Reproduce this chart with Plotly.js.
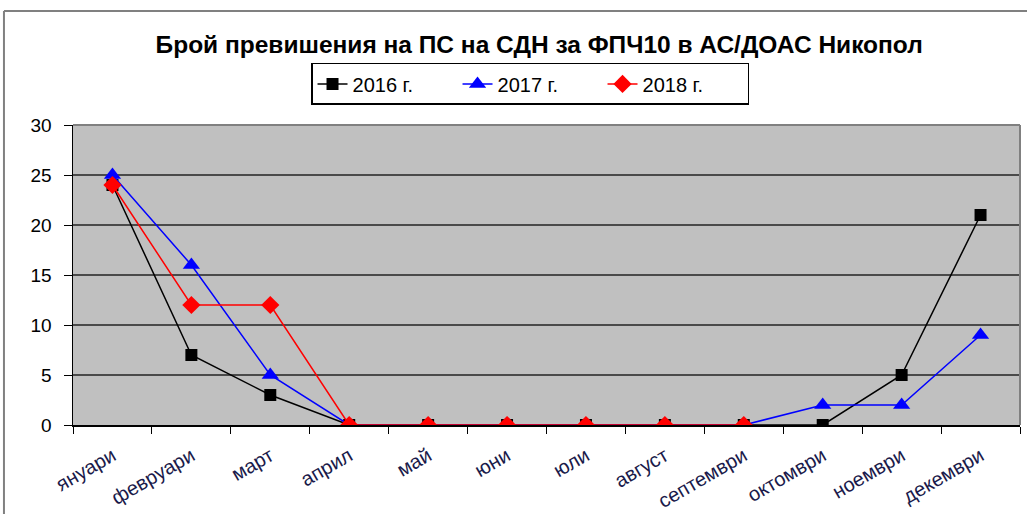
<!DOCTYPE html>
<html>
<head>
<meta charset="utf-8">
<script src="https://cdn.plot.ly/plotly-3.0.1.min.js"></script>
<style>html,body{margin:0;padding:0;background:#fff;}#chart{width:1027px;height:514px;}</style>
</head>
<body>
<div id="chart"></div>
<script>
const months = ["януари","февруари","март","април","май","юни","юли","август","септември","октомври","ноември","декември"];
const y2016 = [24, 7, 3, 0, 0, 0, 0, 0, 0, 0, 5, 21];
const y2017 = [25, 16, 5, 0, 0, 0, 0, 0, 0, 2, 2, 9];
const y2018 = [24, 12, 12, 0, 0, 0, 0, 0, 0, null, null, null];
const seriesNames = ["2016 г.", "2017 г.", "2018 г."];

const traces = [
  {x: months, y: y2016, name: seriesNames[0], type: 'scatter', mode: 'lines+markers',
   line: {color: '#000000', width: 1.5}, marker: {symbol: 'square', size: 12, color: '#000000'}},
  {x: months, y: y2017, name: seriesNames[1], type: 'scatter', mode: 'lines+markers',
   line: {color: '#0000ff', width: 1.5}, marker: {symbol: 'triangle-up', size: 15, color: '#0000ff'}},
  {x: months, y: y2018, name: seriesNames[2], type: 'scatter', mode: 'lines+markers',
   line: {color: '#ff0000', width: 1.5}, marker: {symbol: 'diamond', size: 14, color: '#ff0000'}}
];

const layout = {
  width: 1027, height: 514,
  margin: {l: 73, r: 7, t: 125, b: 89},
  paper_bgcolor: '#ffffff',
  plot_bgcolor: '#c0c0c0',
  font: {family: 'Arial, Liberation Sans, sans-serif', color: '#000'},
  title: {text: '<b>Брой превишения на ПС на СДН за ФПЧ10 в АС/ДОАС Никопол</b>',
          font: {size: 24.5, color: '#000'}, x: 0.525, xanchor: 'center', y: 0.914, yanchor: 'middle'},
  showlegend: true,
  legend: {orientation: 'h', x: 0.4826, xanchor: 'center', y: 1.207, yanchor: 'top',
           bordercolor: '#000', borderwidth: 1.5, bgcolor: '#fff', font: {size: 20},
           entrywidth: 100, entrywidthmode: 'pixels', tracegroupgap: 0},
  xaxis: {type: 'category', range: [-0.5, 11.5], tickangle: -30, tickson: 'boundaries',
          ticks: 'outside', ticklen: 7, tickcolor: '#000', showline: true, linecolor: '#000', linewidth: 1.5,
          showgrid: false, zeroline: false, tickfont: {size: 20, color: '#1a1a4a'}, ticklabelstandoff: 10},
  yaxis: {range: [0, 30], dtick: 5, ticks: 'outside', ticklen: 8, tickcolor: '#000',
          showline: true, linecolor: '#000', linewidth: 1.5, gridcolor: '#4a4a4a', gridwidth: 1.5,
          zeroline: false, tickfont: {size: 19, color: '#000'}, ticklabelstandoff: 8},
  shapes: [
    {type: 'line', xref: 'paper', yref: 'paper', x0: 0, x1: 1, y0: 1, y1: 1, line: {color: '#808080', width: 2}},
    {type: 'line', xref: 'paper', yref: 'paper', x0: 1, x1: 1, y0: 0, y1: 1, line: {color: '#808080', width: 2}},
    {type: 'line', xref: 'paper', yref: 'paper', x0: -0.0729, x1: 1.01, y0: 1.38, y1: 1.38, line: {color: '#808080', width: 2}},
    {type: 'line', xref: 'paper', yref: 'paper', x0: -0.0729, x1: -0.0729, y0: -0.3, y1: 1.38, line: {color: '#808080', width: 2}}
  ]
};

Plotly.newPlot('chart', traces, layout, {displayModeBar: false, staticPlot: true});
</script>
</body>
</html>
